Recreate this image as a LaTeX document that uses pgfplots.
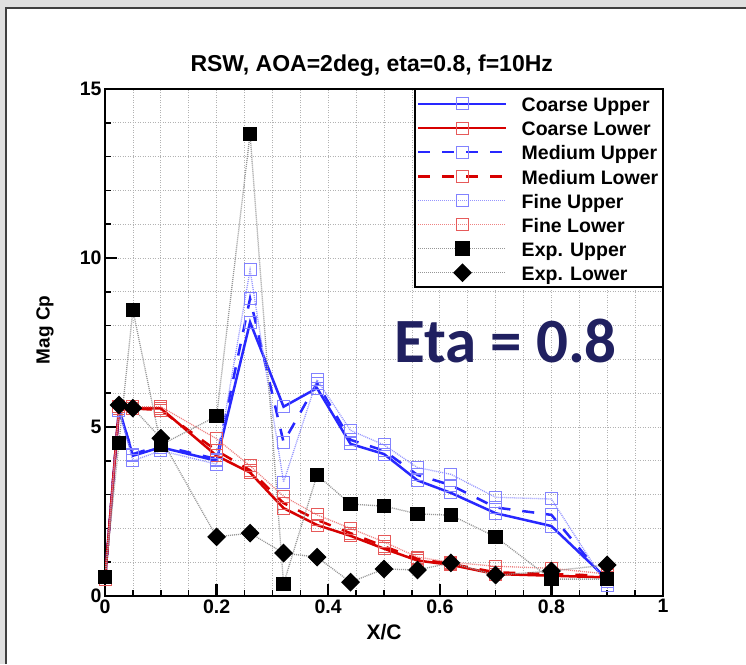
\documentclass[border=0pt]{standalone}
\usepackage{fontspec}
\setmainfont{Liberation Sans}
\newfontfamily\carlito{Carlito}
\usepackage{pgfplots}
\pgfplotsset{compat=1.18}
\definecolor{cblue}{RGB}{40,40,255}
\definecolor{lblue}{RGB}{130,130,255}
\definecolor{fblue}{RGB}{150,150,255}
\definecolor{cred}{RGB}{215,0,0}
\definecolor{lred}{RGB}{230,90,90}
\definecolor{fred}{RGB}{238,130,130}
\definecolor{egray}{RGB}{150,150,150}
\definecolor{navy}{RGB}{32,32,96}
\begin{document}
\begin{tikzpicture}[x=1pt,y=1pt]
\path[use as bounding box] (0,0) rectangle (746,664);
\fill[black!12] (0,0) rectangle (746,664);
\fill[white] (6,0) rectangle (746,656);
\draw[black!75, line width=1.5pt] (6,0) -- (6,656) -- (746,656);
\begin{axis}[
  at={(105pt,68pt)}, anchor=south west,
  scale only axis, width=558pt, height=507pt,
  xmin=0, xmax=1, ymin=0, ymax=15,
  xtick={0,0.2,0.4,0.6,0.8,1}, minor x tick num=3,
  ytick={0,5,10,15}, minor y tick num=4,
  tick pos=left, tick align=inside,
  major tick length=12pt, minor tick length=6pt,
  every major tick/.style={black, line width=2.5pt},
  every minor tick/.style={black, line width=1.5pt},
  grid=both,
  major grid style={draw=black!30, dash pattern=on 1pt off 1.5pt, line width=0.8pt},
  minor grid style={draw=black!30, dash pattern=on 1pt off 1.5pt, line width=0.8pt},
  axis line style={line width=2.5pt},
  /pgf/number format/assume math mode=true,
  ticklabel style={font=\bfseries\fontsize{19.5}{19.5}\selectfont},
  title={RSW, AOA=2deg, eta=0.8, f=10Hz},
  title style={at={(rel axis cs:0.478,1)}, anchor=base, yshift=11pt, font=\bfseries\fontsize{23}{23}\selectfont},
  xlabel={X/C},
  xlabel style={at={(rel axis cs:0.5,0)}, anchor=center, yshift=-36pt, font=\bfseries\fontsize{21}{21}\selectfont},
  ylabel={Mag Cp},
  ylabel style={at={(rel axis cs:-0.1075,0.525)}, anchor=center, font=\bfseries\fontsize{19}{19}\selectfont},
  legend style={at={(1,1)}, anchor=north east, draw=black, line width=1.5pt, fill=white,
    font=\bfseries\fontsize{19.5}{19.5}\selectfont, inner xsep=2pt, inner ysep=3pt,
    row sep=1.6pt, column sep=12pt,
    nodes={inner sep=2pt, text height=17pt, text depth=1.5pt},
    cells={anchor=west}},
  legend image code/.code={\draw[mark repeat=2,mark phase=2,#1] plot coordinates {(0pt,0pt) (44pt,0pt) (88pt,0pt)};},
]
% Coarse Upper
\addplot[color=cblue, line width=2.5pt, mark=square, mark size=6pt, mark options={solid, draw=lblue, line width=1pt}] coordinates {
(0,0.5) (0.025,5.55) (0.05,4.15) (0.1,4.4) (0.2,4.0) (0.26,8.1) (0.32,5.6) (0.38,6.15) (0.44,4.5) (0.5,4.2) (0.56,3.42) (0.62,3.05) (0.7,2.45) (0.8,2.07) (0.9,0.5)};
\addlegendentry{Coarse Upper}
% Coarse Lower
\addplot[color=cred, line width=2.5pt, mark=square, mark size=6pt, mark options={solid, draw=lred, line width=1pt}] coordinates {
(0,0.5) (0.025,5.5) (0.05,5.55) (0.1,5.55) (0.2,4.15) (0.26,3.65) (0.32,2.6) (0.38,2.1) (0.44,1.78) (0.5,1.4) (0.56,1.05) (0.62,0.92) (0.7,0.65) (0.8,0.6) (0.9,0.55)};
\addlegendentry{Coarse Lower}
% Medium Upper
\addplot[color=cblue, line width=2.5pt, dash pattern=on 12pt off 12pt, mark=square, mark size=6pt, mark options={solid, draw=lblue, line width=1pt}] coordinates {
(0,0.5) (0.025,5.5) (0.05,4.2) (0.1,4.45) (0.2,4.05) (0.26,8.8) (0.32,4.55) (0.38,6.3) (0.44,4.62) (0.5,4.3) (0.56,3.58) (0.62,3.28) (0.7,2.62) (0.8,2.4) (0.9,0.42)};
\addlegendentry{Medium Upper}
% Medium Lower
\addplot[color=cred, line width=2.5pt, dash pattern=on 12pt off 12pt, mark=square, mark size=6pt, mark options={solid, draw=lred, line width=1pt}] coordinates {
(0,0.5) (0.025,5.55) (0.05,5.55) (0.1,5.5) (0.2,4.3) (0.26,3.72) (0.32,2.75) (0.38,2.25) (0.44,1.86) (0.5,1.47) (0.56,1.1) (0.62,0.95) (0.7,0.7) (0.8,0.65) (0.9,0.6)};
\addlegendentry{Medium Lower}
% Fine Upper
\addplot[color=fblue, line width=1.3pt, dash pattern=on 1pt off 1pt, mark=square, mark size=6pt, mark options={solid, draw=lblue, line width=1pt}] coordinates {
(0,0.5) (0.025,5.5) (0.05,4.0) (0.1,4.3) (0.2,3.9) (0.26,9.65) (0.32,3.37) (0.38,6.4) (0.44,4.9) (0.5,4.47) (0.56,3.8) (0.62,3.6) (0.7,2.92) (0.8,2.87) (0.9,0.3)};
\addlegendentry{Fine Upper}
% Fine Lower
\addplot[color=fred, line width=1.3pt, dash pattern=on 1pt off 1pt, mark=square, mark size=6pt, mark options={solid, draw=lred, line width=1pt}] coordinates {
(0,0.5) (0.025,5.6) (0.05,5.6) (0.1,5.6) (0.2,4.65) (0.26,3.85) (0.32,2.95) (0.38,2.4) (0.44,2.0) (0.5,1.6) (0.56,1.15) (0.62,1.0) (0.7,0.88) (0.8,0.82) (0.9,0.65)};
\addlegendentry{Fine Lower}
% Exp Upper
\addplot[color=egray, line width=1.3pt, dash pattern=on 1pt off 1pt, mark=square*, mark size=6.5pt, mark options={solid, draw=black, fill=black}] coordinates {
(0,0.56) (0.025,4.53) (0.05,8.46) (0.1,4.47) (0.2,5.32) (0.26,13.67) (0.32,0.36) (0.38,3.58) (0.44,2.72) (0.5,2.66) (0.56,2.43) (0.62,2.39) (0.7,1.75) (0.8,0.5) (0.9,0.5)};
\addlegendentry{Exp. Upper}
% Exp Lower
\addplot[color=egray, line width=1.3pt, dash pattern=on 1pt off 1pt, mark=square*, mark size=6pt, mark options={solid, draw=black, fill=black, rotate=45}] coordinates {
(0.025,5.65) (0.05,5.56) (0.1,4.67) (0.2,1.75) (0.26,1.86) (0.32,1.27) (0.38,1.15) (0.44,0.41) (0.5,0.8) (0.56,0.77) (0.62,0.98) (0.7,0.62) (0.8,0.74) (0.9,0.92)};
\addlegendentry{Exp. Lower}
\end{axis}
\node[anchor=base west, text=navy, font=\carlito\bfseries\fontsize{63}{63}\selectfont, inner sep=0pt] at (394,301) {Eta = 0.8};
\end{tikzpicture}
\end{document}
